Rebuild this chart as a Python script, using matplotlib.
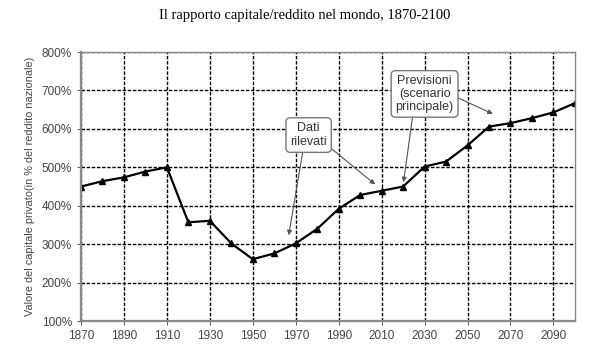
import numpy as np
import matplotlib.pyplot as plt

# anni e rapporto capitale/reddito (%)
years = [1870, 1880, 1890, 1900, 1910, 1920, 1930, 1940, 1950, 1960, 1970,
         1980, 1990, 2000, 2010, 2020, 2030, 2040, 2050, 2060, 2070, 2080,
         2090, 2100]
ratio = [450, 464, 474, 489, 500, 357, 361, 302, 261, 276, 302,
         340, 392, 428, 439, 450, 502, 515, 557, 606, 615, 628,
         643, 667]

xticks = [1870, 1890, 1910, 1930, 1950, 1970, 1990, 2010, 2030, 2050, 2070, 2090]
yticks = [100, 200, 300, 400, 500, 600, 700, 800]

narrow = ['Liberation Sans Narrow', 'Liberation Sans', 'DejaVu Sans']

fig = plt.figure(figsize=(6.09, 3.54), dpi=100)
ax = fig.add_axes([0.133, 0.093, 0.811, 0.76])

ax.plot(years, ratio, '-^', color='black', lw=1.6, ms=5)

ax.set_xlim(1870, 2100)
ax.set_ylim(100, 800)
ax.set_xticks(xticks)
ax.set_yticks(yticks)
ax.set_yticklabels([f'{v}%' for v in yticks])
for lab in ax.get_xticklabels() + ax.get_yticklabels():
    lab.set_family(narrow)
    lab.set_fontsize(8.5)
    lab.set_color('#444444')
ax.tick_params(axis='both', length=3, color='#666666')
ax.grid(True, color='black', ls=(0, (2.5, 1.2)), lw=1)

for s in ['top', 'right']:
    ax.spines[s].set_color('#888888')
    ax.spines[s].set_linewidth(1)
for s in ['left', 'bottom']:
    ax.spines[s].set_color('#888888')
    ax.spines[s].set_linewidth(1.6)

ax.set_ylabel('Valore del capitale privato(in % del reddito nazionale)',
              family=narrow, fontsize=7.8, color='#444444', labelpad=5)

box = dict(boxstyle='round,pad=0.35', fc='white', ec='#777777', lw=1)
arr = dict(arrowstyle='-|>', color='#555555', lw=0.8, mutation_scale=7)

ax.annotate('', xy=(1966.5, 316), xytext=(1974, 565), arrowprops=arr)
ax.annotate('', xy=(2008, 451), xytext=(1983, 565), arrowprops=arr)
ax.text(1976, 584, 'Dati\nrilevati', ha='center', va='center',
        family=narrow, fontsize=9, color='#333333', bbox=box, linespacing=1.2)

ax.annotate('', xy=(2020, 454), xytext=(2025, 655), arrowprops=arr)
ax.annotate('', xy=(2063, 636), xytext=(2040, 695), arrowprops=arr)
ax.text(2030, 691, 'Previsioni\n(scenario\nprincipale)', ha='center', va='center',
        family=narrow, fontsize=9, color='#333333', bbox=box, linespacing=1.1)

fig.text(0.5, 0.955, 'Il rapporto capitale/reddito nel mondo, 1870-2100',
         ha='center', va='center', family=['Liberation Serif', 'DejaVu Serif'],
         fontsize=10.5)

fig.savefig('out.png', dpi=100)
